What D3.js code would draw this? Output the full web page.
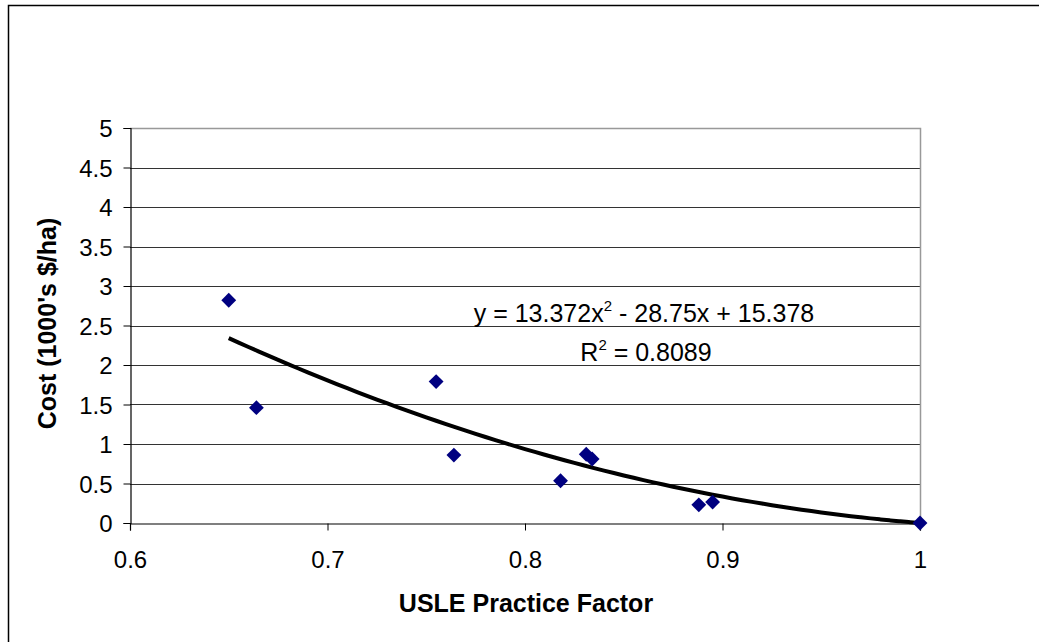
<!DOCTYPE html>
<html><head><meta charset="utf-8">
<script src="https://cdn.jsdelivr.net/npm/d3@7"></script>
<style>body{margin:0;background:#fff;} svg{display:block;font-family:"Liberation Sans",Arial,sans-serif;}</style>
</head><body>
<svg id="c" width="1039" height="642"></svg>
<script>
const xValues = [0.650, 0.664, 0.755, 0.764, 0.818, 0.831, 0.834, 0.888, 0.895, 1.000];
const yValues = [2.82, 1.46, 1.79, 0.86, 0.535, 0.87, 0.81, 0.23, 0.265, 0.0];
const trendCoefs = [13.372, -28.75, 15.378]; // a x^2 + b x + c
const trendRange = [0.65, 1.0];
const xTicks = [0.6, 0.7, 0.8, 0.9, 1];
const yTicks = [0, 0.5, 1, 1.5, 2, 2.5, 3, 3.5, 4, 4.5, 5];
const xTitle = "USLE Practice Factor";
const yTitle = "Cost (1000's $/ha)";

const svg = d3.select("#c");
const L = 130, R = 920, T = 128, B = 523;
const x = d3.scaleLinear().domain([0.6, 1]).range([L, R]);
const y = d3.scaleLinear().domain([0, 5]).range([B, T]);

// outer border
svg.append("path").attr("d", "M8.5,642 V5.5 H1039").attr("fill","none").attr("stroke","#000").attr("stroke-width",1.5);

// gridlines
svg.append("g").selectAll("line").data(yTicks.filter(d => d > 0 && d < 5)).join("line")
  .attr("x1", L).attr("x2", R).attr("y1", d => Math.round(y(d)) + 0.5).attr("y2", d => Math.round(y(d)) + 0.5)
  .attr("stroke", "#333").attr("stroke-width", 1);
// plot border top/right gray
svg.append("path").attr("d", `M${L},${T+0.5} H${R+0.5} V${B}`).attr("fill","none").attr("stroke","#999").attr("stroke-width",1.5);

// axes
const yAxis = d3.axisLeft(y).tickValues(yTicks).tickSize(7).tickPadding(11).tickFormat(d3.format("~g"));
const gy = svg.append("g").attr("transform", `translate(${L+0.5},0)`).call(yAxis);
const xAxis = d3.axisBottom(x).tickValues(xTicks).tickSize(7).tickPadding(20).tickFormat(d3.format("~g"));
const gx = svg.append("g").attr("transform", `translate(0,${B+0.5})`).call(xAxis);
[gy, gx].forEach(g => {
  g.attr("font-size", null).attr("font-family", null);
  g.select(".domain").attr("stroke", "#000").attr("stroke-width", 1.2);
  g.selectAll(".tick line").attr("stroke", "#000");
  g.selectAll(".tick text").style("font-size", "24px").attr("fill", "#000");
});
gy.selectAll(".tick text").attr("dy", "0.36em");

// titles
svg.append("text").attr("x", 526).attr("y", 612).attr("text-anchor","middle")
  .style("font-size", "25px").attr("font-weight","bold").text(xTitle);
svg.append("text").attr("transform", `translate(56,${(T+B)/2 - 2}) rotate(-90)`).attr("text-anchor","middle")
  .style("font-size", "25px").attr("font-weight","bold").text(yTitle);

// trendline
const tx = d3.range(trendRange[0], trendRange[1] + 1e-9, 0.005);
const line = d3.line().x(d => x(d)).y(d => y(trendCoefs[0]*d*d + trendCoefs[1]*d + trendCoefs[2])).curve(d3.curveMonotoneX);
svg.append("path").datum(tx).attr("d", line).attr("fill","none").attr("stroke","#000").attr("stroke-width",4);

// points
const sym = d3.symbol().type(d3.symbolSquare).size(110);
svg.append("g").selectAll("path").data(xValues.map((v,i)=>[v, yValues[i]])).join("path")
  .attr("d", sym).attr("transform", d => `translate(${x(d[0])},${y(d[1])}) rotate(45)`)
  .attr("fill", "#000080");

// equation
const eq = svg.append("text").attr("x", 644).attr("y", 322).attr("text-anchor","middle").style("font-size", "25px");
eq.append("tspan").text("y = 13.372x");
eq.append("tspan").attr("dy", -11).style("font-size", "15px").text("2");
eq.append("tspan").attr("dy", 11).text(" - 28.75x + 15.378");
const r2 = svg.append("text").attr("x", 646).attr("y", 361).attr("text-anchor","middle").style("font-size", "25px");
r2.append("tspan").text("R");
r2.append("tspan").attr("dy", -11).style("font-size", "15px").text("2");
r2.append("tspan").attr("dy", 11).text(" = 0.8089");
</script>
</body></html>
